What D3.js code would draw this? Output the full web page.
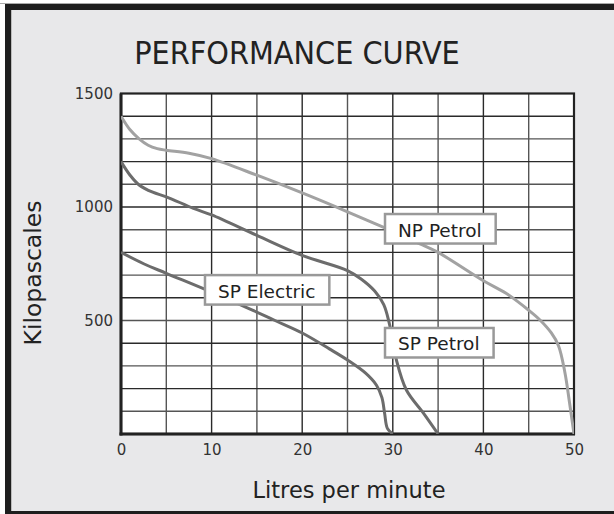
<!DOCTYPE html>
<html><head><meta charset="utf-8">
<script src="https://cdn.jsdelivr.net/npm/d3@7"></script>
<style>html,body{margin:0;padding:0;background:#fff;}svg{display:block;}</style>
</head><body>
<svg id="c" width="614" height="514"></svg>
<script>
const xTicks = [0, 10, 20, 30, 40, 50];
const yTicks = [500, 1000, 1500];
const npPetrol = [[0,1400],[1,1340],[2,1300],[3,1272],[4,1257],[5,1250],[7.5,1237],[10,1213],[15,1140],[20,1062],[25,979],[29,910],[33,838],[35,800],[40,675],[42.5,620],[45,545],[46.3,500],[47.5,445],[48.3,388],[49,270],[49.5,140],[50,0]];
const spPetrol = [[0,1200],[1,1140],[2,1097],[3.5,1065],[5,1045],[8,994],[10,965],[15,875],[20,787],[25,720],[26.5,683],[28,630],[29,570],[29.6,490],[30,410],[30.4,326],[31.5,194],[33.4,91],[35,0]];
const spElectric = [[0,800],[2.5,750],[5,708],[10,625],[14,555],[17,500],[20,445],[23,375],[25,326],[27,268],[28.2,215],[28.8,160],[29.1,90],[29.4,25],[30,0]];
const seriesLabels = ["NP Petrol", "SP Petrol", "SP Electric"];

const svg = d3.select("#c");
const x = d3.scaleLinear().domain([0, 50]).range([121, 574]);
const y = d3.scaleLinear().domain([0, 1500]).range([434, 93.5]);

// background + frame
svg.append("rect").attr("x",0).attr("y",0).attr("width",614).attr("height",514).attr("fill","#fff");
svg.append("line").attr("x1",0).attr("x2",614).attr("y1",3.5).attr("y2",3.5).attr("stroke","#aaa").attr("stroke-width",1);
svg.append("rect").attr("x",8).attr("y",7).attr("width",700).attr("height",507)
  .attr("fill","#e8e8ea").attr("stroke","#1e1e1e").attr("stroke-width",6);
svg.append("line").attr("x1",11.5).attr("x2",11.5).attr("y1",10).attr("y2",511).attr("stroke","#bbb").attr("stroke-width",1);

// title
svg.append("text").attr("x",297).attr("y",64).attr("text-anchor","middle")
  .attr("font-family","DejaVu Sans Condensed, DejaVu Sans").attr("font-stretch","condensed")
  .attr("font-size",32).attr("fill","#222").text("PERFORMANCE CURVE");

// plot area
svg.append("rect").attr("x",x(0)).attr("y",y(1500)).attr("width",x(50)-x(0)).attr("height",y(0)-y(1500)).attr("fill","#fff");

const g = svg.append("g");
d3.range(5, 50, 5).forEach(v => {
  g.append("line").attr("x1",x(v)).attr("x2",x(v)).attr("y1",y(0)).attr("y2",y(1500))
    .attr("stroke", v % 10 === 0 ? "#2a2a2a" : "#555").attr("stroke-width",1.4);
});
d3.range(100, 1500, 100).forEach(v => {
  g.append("line").attr("x1",x(0)).attr("x2",x(50)).attr("y1",y(v)).attr("y2",y(v))
    .attr("stroke", v % 200 === 0 ? "#2a2a2a" : "#555").attr("stroke-width",1.4);
});
// border
svg.append("rect").attr("x",x(0)).attr("y",y(1500)).attr("width",x(50)-x(0)).attr("height",y(0)-y(1500))
  .attr("fill","none").attr("stroke","#222").attr("stroke-width",2.2);
svg.append("line").attr("x1",x(0)).attr("x2",x(0)).attr("y1",y(1500)).attr("y2",y(0)+1.5).attr("stroke","#222").attr("stroke-width",3);
svg.append("line").attr("x1",x(0)-1.5).attr("x2",x(50)+1).attr("y1",y(0)).attr("y2",y(0)).attr("stroke","#222").attr("stroke-width",3);

// axes labels
const xAxis = svg.append("g").attr("transform",`translate(0,${y(0)+5})`)
  .call(d3.axisBottom(x).tickValues(xTicks).tickSize(0).tickPadding(5));
xAxis.select(".domain").remove();
xAxis.selectAll("text").attr("font-family","DejaVu Sans").attr("font-size",15).attr("fill","#333");
const yAxis = svg.append("g").attr("transform",`translate(${x(0)-8},0)`)
  .call(d3.axisLeft(y).tickValues(yTicks).tickSize(0).tickPadding(0).tickFormat(d3.format("d")));
yAxis.select(".domain").remove();
yAxis.selectAll("text").attr("font-family","DejaVu Sans").attr("font-size",15).attr("fill","#333");

svg.append("text").attr("transform","translate(41,273) rotate(-90)").attr("text-anchor","middle")
  .attr("font-family","DejaVu Sans").attr("font-size",23.5).attr("fill","#222").text("Kilopascales");
svg.append("text").attr("x",349).attr("y",498).attr("text-anchor","middle")
  .attr("font-family","DejaVu Sans").attr("font-size",22.5).attr("fill","#222").text("Litres per minute");

// curves
const line = d3.line().x(d => x(d[0])).y(d => y(d[1])).curve(d3.curveCatmullRom.alpha(0.5));
svg.append("clipPath").attr("id","pc").append("rect")
  .attr("x",x(0)).attr("y",y(1500)).attr("width",x(50)-x(0)).attr("height",y(0)-y(1500));
const cg = svg.append("g").attr("clip-path","url(#pc)");
cg.append("path").datum(npPetrol).attr("d",line).attr("fill","none").attr("stroke","#a2a2a2").attr("stroke-width",3);
cg.append("path").datum(spPetrol).attr("d",line).attr("fill","none").attr("stroke","#6c6c6c").attr("stroke-width",3);
cg.append("path").datum(spElectric).attr("d",line).attr("fill","none").attr("stroke","#6c6c6c").attr("stroke-width",3);

// label boxes (positioned by data coordinates)
const boxes = [
  {t: seriesLabels[0], x0: 29.14, y0: 969},
  {t: seriesLabels[1], x0: 29.14, y0: 467},
  {t: seriesLabels[2], x0: 9.27, y0: 700}
];
boxes.forEach(b => {
  const bx = x(b.x0), by = y(b.y0);
  const gg = svg.append("g");
  const txt = gg.append("text").attr("x",bx+13).attr("y",by+22.5)
    .attr("font-family","DejaVu Sans").attr("font-size",18.5).attr("fill","#222").text(b.t);
  const w = txt.node().getComputedTextLength();
  gg.insert("rect","text").attr("x",bx).attr("y",by).attr("width",w+27).attr("height",29.5)
    .attr("fill","#fff").attr("stroke","#999").attr("stroke-width",2.5);
});
</script>
</body></html>
